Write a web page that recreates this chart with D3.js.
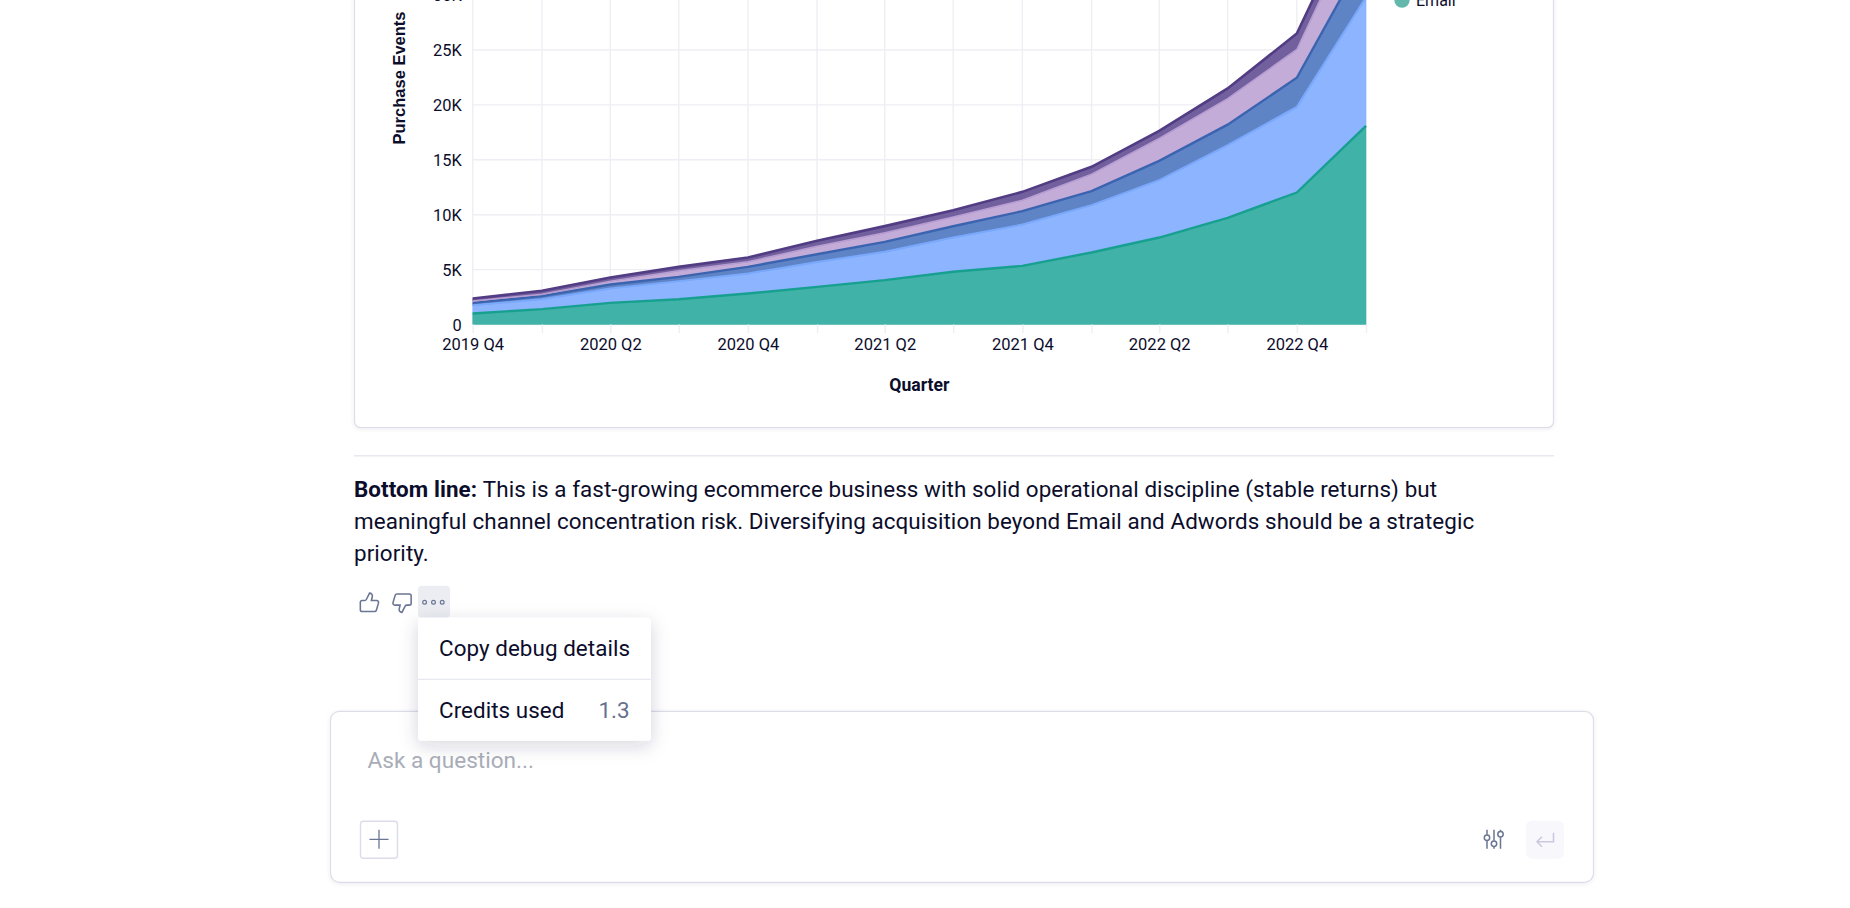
<!DOCTYPE html>
<html>
<head>
<meta charset="utf-8">
<script src="https://cdn.jsdelivr.net/npm/d3@7"></script>
<style>
    html, body { margin: 0; padding: 0; background: #fff; overflow: hidden; }
    svg { display: block; font-family: Roboto, sans-serif; }
    .domain { display: none; }
</style>
</head>
<body>
<script>
// values, only Email can be named: the other legend rows are scrolled away
const quarters = ['2019 Q4', '2020 Q1', '2020 Q2', '2020 Q3', '2020 Q4', '2021 Q1', '2021 Q2', '2021 Q3', '2021 Q4', '2022 Q1', '2022 Q2', '2022 Q3', '2022 Q4', '2023 Q1']
const email = [1000, 1400, 1970, 2300, 2820, 3430, 4040, 4800, 5340, 6560, 7920, 9715, 12020, 18090]
const channel2 = [760, 900, 1310, 1650, 1820, 2270, 2580, 3120, 3760, 4310, 5230, 6615, 7800, 11710]
const channel3 = [210, 280, 360, 390, 610, 700, 910, 1030, 1220, 1270, 1750, 1870, 2650, 4030]
const channel4 = [180, 180, 310, 550, 460, 730, 820, 850, 1000, 1550, 2040, 2380, 2580, 4670]
const channel5 = [220, 310, 330, 360, 390, 490, 610, 610, 760, 670, 700, 920, 1450, 1250]
const yTicks = [0, 5000, 10000, 15000, 20000, 25000, 30000]

const seriesKeys = ['email', 'channel2', 'channel3', 'channel4', 'channel5']
const seriesValues = [email, channel2, channel3, channel4, channel5]
const fills = ['#3bafa4', '#88b2ff', '#5a80c4', '#c1a9d7', '#6c5a9b']
const lines = ['#17a08f', '#7aa8fb', '#3b64b0', '#b79dd2', '#523c83']
const lineWidths = [2.4, 2, 2.4, 1.5, 2.6]

const bodyLines = [
    [['Bottom line: ', 700], ['This is a fast-growing ecommerce business with solid operational discipline (stable returns) but', 400]],
    [['meaningful channel concentration risk. Diversifying acquisition beyond Email and Adwords should be a strategic', 400]],
    [['priority.', 400]]
]

const ink = '#0b0d2b'
const gridColor = '#eeeef4'
const borderColor = '#dcdde8'
const iconColor = '#6b7594'

const toDate = q => new Date(Date.UTC(+q.slice(0, 4), (+q.slice(6) - 1) * 3, 1))
const rows = quarters.map((q, i) => {
    const row = { date: toDate(q) }
    seriesKeys.forEach((k, s) => { row[k] = seriesValues[s][i] })
    return row
})

const svg = d3.select('body').append('svg')
    .attr('width', 1850)
    .attr('height', 908)

const defs = svg.append('defs')
const soft = defs.append('filter').attr('id', 'soft').attr('x', '-10%').attr('y', '-10%').attr('width', '120%').attr('height', '130%')
soft.append('feDropShadow').attr('dx', 0).attr('dy', 1).attr('stdDeviation', 2).attr('flood-color', '#20224a').attr('flood-opacity', 0.08)
const pop = defs.append('filter').attr('id', 'pop').attr('x', '-20%').attr('y', '-20%').attr('width', '140%').attr('height', '150%')
pop.append('feDropShadow').attr('dx', 0).attr('dy', 5).attr('stdDeviation', 9).attr('flood-color', '#20224a').attr('flood-opacity', 0.18)

// chart card, its top is above the window
svg.append('rect')
    .attr('x', 354.5).attr('y', -400).attr('width', 1199).attr('height', 827.5)
    .attr('rx', 6)
    .attr('fill', '#fff').attr('stroke', borderColor).attr('stroke-width', 1.2)
    .attr('filter', 'url(#soft)')

const x = d3.scaleUtc()
    .domain(d3.extent(rows, d => d.date))
    .range([472.7, 1366])

const y = d3.scaleLinear()
    .domain([0, 45000])
    .range([324.5, -169.6])

// grid
svg.append('g').selectAll('line')
    .data(yTicks)
    .enter().append('line')
    .attr('x1', x.range()[0]).attr('x2', x.range()[1])
    .attr('y1', d => y(d)).attr('y2', d => y(d))
    .attr('stroke', gridColor).attr('stroke-width', 1.4)

svg.append('g').selectAll('line')
    .data(rows)
    .enter().append('line')
    .attr('x1', d => x(d.date)).attr('x2', d => x(d.date))
    .attr('y1', y.range()[1]).attr('y2', y(0))
    .attr('stroke', gridColor).attr('stroke-width', 1.4)

// stacked areas
const stacked = d3.stack().keys(seriesKeys)(rows)

const area = d3.area()
    .x(d => x(d.data.date))
    .y0(d => y(d[0]))
    .y1(d => y(d[1]))

const topLine = d3.line()
    .x(d => x(d.data.date))
    .y(d => y(d[1]))

svg.append('g').selectAll('path')
    .data(stacked)
    .enter().append('path')
    .attr('d', area)
    .attr('fill', (d, i) => fills[i])
    .attr('fill-opacity', 0.97)
    .attr('stroke', (d, i) => fills[i])
    .attr('stroke-opacity', 0.45)
    .attr('stroke-width', 1)

svg.append('g').selectAll('path')
    .data(stacked)
    .enter().append('path')
    .attr('d', topLine)
    .attr('fill', 'none')
    .attr('stroke', (d, i) => lines[i])
    .attr('stroke-width', (d, i) => lineWidths[i])

// axes
const axisX = svg.append('g')
    .attr('transform', `translate(0,${y(0)})`)
    .call(d3.axisBottom(x)
        .tickValues(rows.map(d => d.date))
        .tickFormat((d, i) => i % 2 == 0 ? quarters[i] : '')
        .tickSize(8.5)
        .tickPadding(5))
axisX.selectAll('line').attr('stroke', gridColor).attr('stroke-width', 1.4)
axisX.selectAll('text')
    .attr('font-family', 'Roboto, sans-serif').attr('font-size', 16.5).attr('fill', ink)

const axisY = svg.append('g')
    .attr('transform', `translate(${x.range()[0]},0.5)`)
    .call(d3.axisLeft(y)
        .tickValues(yTicks)
        .tickFormat(d => d == 0 ? '0' : (d / 1000) + 'K')
        .tickSize(0)
        .tickPadding(11))
axisY.selectAll('text')
    .attr('font-family', 'Roboto, sans-serif').attr('font-size', 16.4).attr('fill', ink)

svg.append('text')
    .attr('x', (x.range()[0] + x.range()[1]) / 2)
    .attr('y', 390.5)
    .attr('text-anchor', 'middle')
    .attr('font-size', 17.6).attr('font-weight', 700).attr('fill', ink)
    .text('Quarter')

svg.append('text')
    .attr('transform', 'translate(404.5,78) rotate(-90)')
    .attr('text-anchor', 'middle')
    .attr('font-family', '"Liberation Sans", sans-serif')
    .attr('font-size', 16.5).attr('font-weight', 700).attr('fill', ink)
    .text('Purchase Events')

// legend, the only row still in view
svg.append('circle')
    .attr('cx', 1402).attr('cy', 0).attr('r', 7.7)
    .attr('fill', '#64b8ab')
svg.append('text')
    .attr('x', 1416).attr('y', 6)
    .attr('font-size', 16).attr('fill', ink)
    .text('Email')

// everything under the chart
const lower = svg.append('g').attr('transform', 'translate(0,0.8)')

lower.append('line')
    .attr('x1', 354).attr('x2', 1554).attr('y1', 455).attr('y2', 455)
    .attr('stroke', '#e8e8ee').attr('stroke-width', 1.4)

lower.append('g').selectAll('text')
    .data(bodyLines)
    .enter().append('text')
    .attr('x', 354)
    .attr('y', (d, i) => 496.7 + i * 32)
    .attr('font-size', 22.4).attr('fill', ink)
    .attr('letter-spacing', 0.08)
    .selectAll('tspan')
    .data(d => d)
    .enter().append('tspan')
    .attr('font-weight', d => d[1])
    .text(d => d[0])

// feedback icons
const thumb = 'M15 5.88 14 10h5.83a2 2 0 0 1 1.92 2.56l-2.33 8A2 2 0 0 1 17.5 22H4a2 2 0 0 1-2-2v-8a2 2 0 0 1 2-2h2.76a2 2 0 0 0 1.79-1.11L12 2a3.13 3.13 0 0 1 3 3.88Z'
lower.append('path')
    .attr('d', thumb)
    .attr('transform', 'translate(358.5,590.5) scale(0.92)')
    .attr('fill', 'none').attr('stroke', iconColor).attr('stroke-width', 1.7)
lower.append('path')
    .attr('d', thumb)
    .attr('transform', 'translate(413,613.5) scale(-0.92,-0.92)')
    .attr('fill', 'none').attr('stroke', iconColor).attr('stroke-width', 1.7)

lower.append('rect')
    .attr('x', 418).attr('y', 585).attr('width', 32).attr('height', 32).attr('rx', 4)
    .attr('fill', '#ebedf2')
lower.append('g').selectAll('circle')
    .data([424.6, 433.5, 442.2])
    .enter().append('circle')
    .attr('cx', d => d).attr('cy', 601.5).attr('r', 1.9)
    .attr('fill', 'none').attr('stroke', iconColor).attr('stroke-width', 1.2)

// question box
lower.append('rect')
    .attr('x', 330.5).attr('y', 710.5).attr('width', 1263).attr('height', 171).attr('rx', 9)
    .attr('fill', '#fff').attr('stroke', borderColor).attr('stroke-width', 1.2)
    .attr('filter', 'url(#soft)')
lower.append('text')
    .attr('x', 367.5).attr('y', 767)
    .attr('font-size', 22.6).attr('fill', '#a9adb8')
    .text('Ask a question...')

lower.append('rect')
    .attr('x', 360.5).attr('y', 820.5).attr('width', 37).attr('height', 37).attr('rx', 3)
    .attr('fill', '#fff').attr('stroke', borderColor).attr('stroke-width', 1.4)
lower.append('path')
    .attr('d', 'M379 829V848M369.5 838.5H388.5')
    .attr('fill', 'none').attr('stroke', iconColor).attr('stroke-width', 1.3)

lower.append('path')
    .attr('d', 'M1487 829V834M1487 840V848M1494 829V840M1494 846V848M1500.5 829V830.5M1500.5 836.5V848')
    .attr('fill', 'none').attr('stroke', iconColor).attr('stroke-width', 1.5)
lower.append('g').selectAll('circle')
    .data([[1487, 837], [1494, 843], [1500.5, 833.5]])
    .enter().append('circle')
    .attr('cx', d => d[0]).attr('cy', d => d[1]).attr('r', 2.7)
    .attr('fill', 'none').attr('stroke', iconColor).attr('stroke-width', 1.5)

lower.append('rect')
    .attr('x', 1526).attr('y', 820).attr('width', 38).attr('height', 38).attr('rx', 6)
    .attr('fill', '#f8f8fc')
lower.append('path')
    .attr('d', 'M1553.5 832V841H1537M1542 836L1537 841L1542 846')
    .attr('fill', 'none').attr('stroke', '#cdc8e0').attr('stroke-width', 1.6)

// popup menu
lower.append('rect')
    .attr('x', 418).attr('y', 617).attr('width', 233).attr('height', 123).attr('rx', 4)
    .attr('fill', '#fff')
    .attr('filter', 'url(#pop)')
lower.append('line')
    .attr('x1', 418).attr('x2', 651).attr('y1', 678.5).attr('y2', 678.5)
    .attr('stroke', '#e8e9f0').attr('stroke-width', 1.2)
lower.append('text')
    .attr('x', 439).attr('y', 655)
    .attr('font-size', 22.4).attr('fill', ink)
    .attr('letter-spacing', 0.06)
    .text('Copy debug details')
lower.append('text')
    .attr('x', 439).attr('y', 717)
    .attr('font-size', 22.4).attr('fill', ink)
    .attr('letter-spacing', 0.06)
    .text('Credits used')
lower.append('text')
    .attr('x', 629.5).attr('y', 717)
    .attr('text-anchor', 'end')
    .attr('font-size', 22.4).attr('fill', '#66708f')
    .text('1.3')
</script>
</body>
</html>
